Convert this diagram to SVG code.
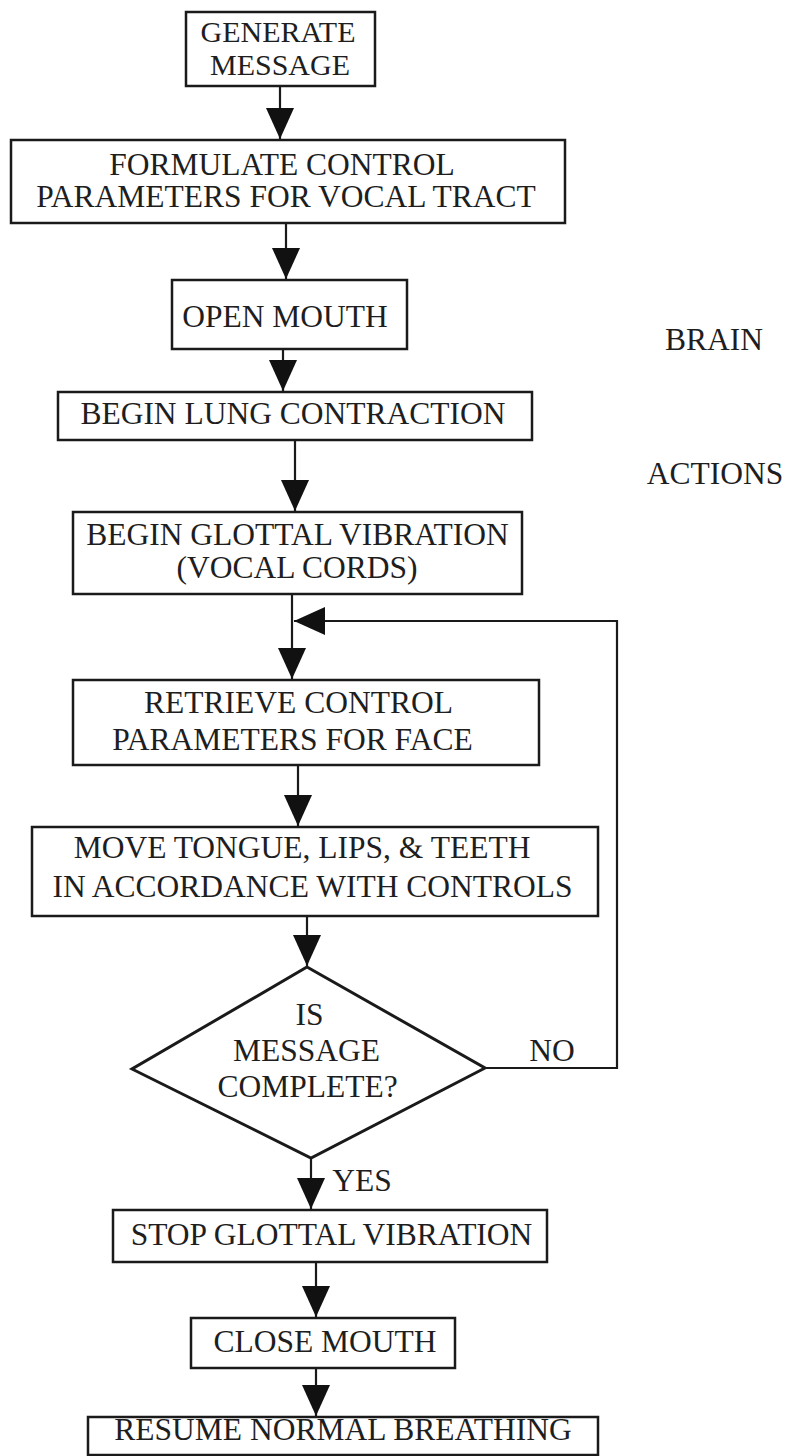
<svg xmlns="http://www.w3.org/2000/svg" width="788" height="1456" viewBox="0 0 788 1456">
<defs>
<style>
.box{fill:#fff;stroke:#1a1a1a;stroke-width:2.5}
.dia{fill:#fff;stroke:#1a1a1a;stroke-width:3}
.t{font-family:"Liberation Serif","Times New Roman",serif;font-size:31.5px;fill:#1e1e1e;text-anchor:middle}
.s{font-size:30px}
.c{fill:none;stroke:#1a1a1a;stroke-width:2.2}
</style>
<marker id="ah" markerUnits="userSpaceOnUse" markerWidth="31" markerHeight="28" refX="31" refY="14" orient="auto" viewBox="0 0 31 28">
<path d="M0,0 L31,14 L0,28 z" fill="#111"/>
</marker>
</defs>
<rect width="788" height="1456" fill="#fff"/>
<g id="connectors">
<line class="c" x1="280" y1="86" x2="280" y2="139" marker-end="url(#ah)"/>
<line class="c" x1="286" y1="223" x2="286" y2="279" marker-end="url(#ah)"/>
<line class="c" x1="283" y1="349" x2="283" y2="391" marker-end="url(#ah)"/>
<line class="c" x1="295" y1="440" x2="295" y2="511" marker-end="url(#ah)"/>
<line class="c" x1="292" y1="594" x2="292" y2="679" marker-end="url(#ah)"/>
<polyline class="c" points="485,1068 617,1068 617,621 294,621" marker-end="url(#ah)"/>
<line class="c" x1="298" y1="765" x2="298" y2="826" marker-end="url(#ah)"/>
<line class="c" x1="307" y1="916" x2="307" y2="966" marker-end="url(#ah)"/>
<line class="c" x1="311" y1="1158" x2="311" y2="1209" marker-end="url(#ah)"/>
<line class="c" x1="316" y1="1262" x2="316" y2="1317" marker-end="url(#ah)"/>
<line class="c" x1="316" y1="1368" x2="316" y2="1416" marker-end="url(#ah)"/>
<text class="t" x="552" y="1061">NO</text>
<text class="t" x="362" y="1191">YES</text>
</g>
<g id="generate">
<rect class="box" x="186" y="12" width="189" height="74"/>
<text class="t s" x="278" y="42">GENERATE</text>
<text class="t s" x="280" y="75">MESSAGE</text>
</g>
<g id="formulate">
<rect class="box" x="11" y="140" width="554" height="83"/>
<text class="t" x="282" y="175">FORMULATE CONTROL</text>
<text class="t" x="286" y="207">PARAMETERS FOR VOCAL TRACT</text>
</g>
<g id="open-mouth">
<rect class="box" x="172" y="280" width="235" height="69"/>
<text class="t" x="285" y="327">OPEN MOUTH</text>
</g>
<g id="lung">
<rect class="box" x="58" y="392" width="474" height="48"/>
<text class="t" x="293" y="424">BEGIN LUNG CONTRACTION</text>
</g>
<g id="glottal">
<rect class="box" x="73" y="512" width="449" height="82"/>
<text class="t" x="297.5" y="545">BEGIN GLOTTAL VIBRATION</text>
<text class="t" x="297" y="578">(VOCAL CORDS)</text>
</g>
<g id="retrieve">
<rect class="box" x="73" y="680" width="466" height="85"/>
<text class="t" x="298.5" y="713">RETRIEVE CONTROL</text>
<text class="t" x="292.5" y="750">PARAMETERS FOR FACE</text>
</g>
<g id="move">
<rect class="box" x="32" y="827" width="566" height="89"/>
<text class="t" x="302" y="858">MOVE TONGUE, LIPS, &amp; TEETH</text>
<text class="t" x="312.5" y="897">IN ACCORDANCE WITH CONTROLS</text>
</g>
<g id="decision">
<polygon class="dia" points="307,967 485,1068 311,1158 132,1069"/>
<text class="t" x="309.5" y="1025">IS</text>
<text class="t" x="306.5" y="1061">MESSAGE</text>
<text class="t" x="307.5" y="1097">COMPLETE?</text>
</g>
<g id="stop">
<rect class="box" x="113" y="1210" width="434" height="52"/>
<text class="t" x="331.5" y="1245">STOP GLOTTAL VIBRATION</text>
</g>
<g id="close">
<rect class="box" x="191" y="1318" width="264" height="50"/>
<text class="t" x="325" y="1352">CLOSE MOUTH</text>
</g>
<g id="resume">
<rect class="box" x="88" y="1417" width="510" height="38"/>
<text class="t" x="343" y="1440">RESUME NORMAL BREATHING</text>
</g>
<g id="labels">
<text class="t" x="714" y="350">BRAIN</text>
<text class="t" x="715" y="484">ACTIONS</text>
</g>
</svg>
